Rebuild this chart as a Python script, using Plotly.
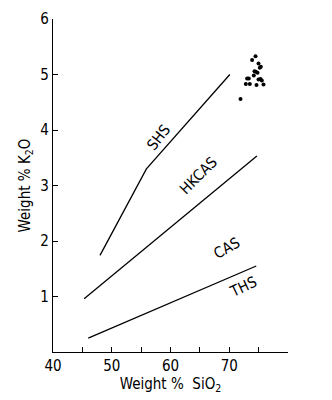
import plotly.graph_objects as go

# Boundary lines between the rock series (SiO2 wt%, K2O wt%)
shs_x = [48.0, 55.9, 70.1]
shs_y = [1.74, 3.30, 5.00]
hkcas_x = [45.3, 74.7]
hkcas_y = [0.96, 3.53]
ths_x = [46.0, 74.6]
ths_y = [0.25, 1.55]

# Sample analyses
sample_sio2 = [74.47, 73.89, 74.98, 75.37, 75.20, 74.30, 74.52, 74.81, 74.18, 73.04,
               73.33, 74.98, 75.32, 75.54, 72.82, 73.50, 74.64, 75.83, 71.92]
sample_k2o = [5.33, 5.26, 5.20, 5.14, 5.12, 5.06, 5.05, 5.03, 4.98, 4.93,
              4.93, 4.91, 4.92, 4.89, 4.83, 4.83, 4.81, 4.82, 4.56]

# Series labels: text, x, y, angle
label_text = ["SHS", "HKCAS", "CAS", "THS"]
label_x = [57.9, 64.7, 69.6, 72.3]
label_y = [3.86, 3.17, 1.88, 1.18]
label_angle = [-52, -45, -30, -25]

x_tickvals = [40, 50, 60, 70]
x_minor_ticks = [45, 55, 65, 75, 80]
y_tickvals = [1, 2, 3, 4, 5, 6]

FONT = "Liberation Sans Narrow, DejaVu Sans Condensed, Arial Narrow, sans-serif"

fig = go.Figure()
line_style = dict(color="black", width=1.3)
for xs, ys in [(shs_x, shs_y), (hkcas_x, hkcas_y), (ths_x, ths_y)]:
    fig.add_trace(go.Scatter(x=xs, y=ys, mode="lines", line=line_style,
                             hoverinfo="skip", showlegend=False))

fig.add_trace(go.Scatter(x=sample_sio2, y=sample_k2o, mode="markers",
                         marker=dict(color="black", size=4),
                         showlegend=False))

for t, x, y, a in zip(label_text, label_x, label_y, label_angle):
    fig.add_annotation(x=x, y=y, text=t, textangle=a, showarrow=False,
                       font=dict(family=FONT, size=15, color="black"))

fig.update_layout(
    width=332, height=400,
    margin=dict(l=53, r=44, t=10, b=45),
    paper_bgcolor="white", plot_bgcolor="white",
    font=dict(family=FONT, size=15, color="black"),
    showlegend=False,
)
fig.update_xaxes(
    range=[40, 80], showgrid=False, zeroline=False,
    showline=True, linecolor="black", linewidth=1.3,
    ticks="inside", ticklen=5, tickwidth=1.2, tickcolor="black",
    tickmode="array", tickvals=x_tickvals,
    minor=dict(tickmode="array", tickvals=x_minor_ticks, ticks="inside",
               ticklen=5, tickwidth=1.2, tickcolor="black", showgrid=False),
    title=dict(text="Weight %  SiO<sub>2</sub>", font=dict(size=15), standoff=4),
)
fig.update_yaxes(
    range=[0, 6], showgrid=False, zeroline=False,
    showline=True, linecolor="black", linewidth=1.3,
    ticks="inside", ticklen=5, tickwidth=1.2, tickcolor="black",
    tickmode="array", tickvals=y_tickvals,
    title=dict(text="Weight % K<sub>2</sub>O", font=dict(size=15), standoff=6),
)

fig.write_html("out.html")
